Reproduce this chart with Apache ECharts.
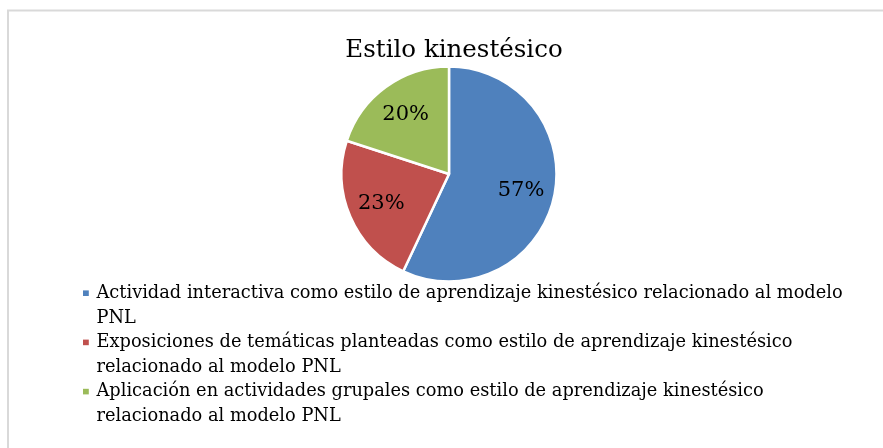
<!DOCTYPE html>
<html>
<head>
<meta charset="utf-8">
<title>Estilo kinestésico</title>
<script src="https://cdn.jsdelivr.net/npm/echarts@6/dist/echarts.min.js"></script>
<style>
    html, body { margin: 0; padding: 0; background: #fff; }
    #PieChart { width: 883px; height: 448px; }
</style>
</head>
<body>
<div id="PieChart"></div>
<script>
//datos del gráfico
var chartTitle = 'Estilo kinestésico';
var categorias = [
    'Actividad interactiva como estilo de aprendizaje kinestésico relacionado al modelo PNL',
    'Exposiciones de temáticas planteadas como estilo de aprendizaje kinestésico relacionado al modelo PNL',
    'Aplicación en actividades grupales como estilo de aprendizaje kinestésico relacionado al modelo PNL'
];
var porcentajes = [57, 23, 20];
var colores = ['#4F81BD', '#C0504D', '#9BBB59'];

//centro del pastel
var cx = 449, cy = 174;
var fuente = 'DejaVu Serif';

document.addEventListener('DOMContentLoaded', function () {
    showChart();
});

//mostrar gráfico
function showChart() {
    var pieChart = echarts.init(document.getElementById('PieChart'));
    var datos = [];
    for (var i = 0; i < categorias.length; i++) {
        datos.push({ name: categorias[i], value: porcentajes[i], itemStyle: { color: colores[i] } });
    }
    var option = {
        backgroundColor: '#fff',
        animation: false,
        graphic: [{
            type: 'rect',
            shape: { x: 8, y: 10.5, width: 1000, height: 1000 },
            style: { fill: 'none', stroke: '#d9d9d9', lineWidth: 2 },
            silent: true
        }],
        title: {
            text: chartTitle,
            left: 449,
            textAlign: 'center',
            top: 33,
            textStyle: {
                color: '#000',
                fontFamily: fuente,
                fontWeight: 'normal',
                fontSize: 24.5
            }
        },
        legend: {
            orient: 'vertical',
            left: 83,
            top: 281,
            padding: 0,
            itemGap: 0,
            itemWidth: 8.5,
            itemHeight: 49.2,
            //cuadrado a la altura de la primera línea del texto
            icon: 'path://M0,0M8.5,49.2M0,9.4L5.8,9.4L5.8,15L0,15Z',
            itemStyle: { borderWidth: 0 },
            selectedMode: false,
            textStyle: {
                color: '#000',
                fontFamily: fuente,
                fontSize: 17.8,
                lineHeight: 24.6,
                width: 770,
                overflow: 'break'
            }
        },
        series: [{
            type: 'pie',
            center: [cx, cy],
            radius: 107.5,
            startAngle: 90,
            clockwise: true,
            silent: true,
            itemStyle: { borderColor: '#fff', borderWidth: 2.5 },
            label: {
                show: true,
                position: 'inside',
                formatter: '{c}%',
                color: '#000',
                fontFamily: fuente,
                fontSize: 21
            },
            labelLine: { show: false },
            labelLayout: function (p) {
                var r = p.labelRect;
                var lx = r.x + r.width / 2, ly = r.y + r.height / 2;
                var k = 1.3;
                return { x: cx + (lx - cx) * k, y: cy + (ly - cy) * k };
            },
            data: datos
        }]
    };
    pieChart.setOption(option);
}
</script>
</body>
</html>
